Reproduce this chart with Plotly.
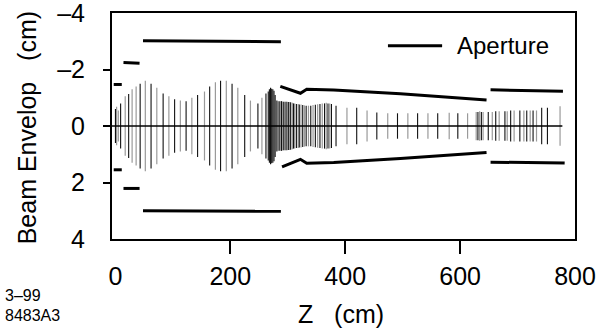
import plotly.graph_objects as go

# ---------------- data ----------------
# beam envelope: vertical sample lines (z in cm, half-width in cm)
env_black_z = [0, 9, 23, 43, 62, 83, 103, 123, 143, 164, 183, 203, 225, 248, 262,
               266, 268, 270, 272, 274, 276, 278, 281, 285, 289, 293, 297, 301, 305,
               310, 315, 320, 326, 332, 340, 348, 356, 364, 370, 376,
               384, 420, 455, 491, 526, 561, 596, 631, 637, 649, 662, 678, 688,
               704, 716, 727, 742, 752]
env_black_a = [0.60, 0.80, 1.13, 1.50, 1.50, 1.15, 0.95, 0.88, 1.10, 1.40, 1.60, 1.50, 1.10, 0.80, 1.15,
               1.22, 1.30, 1.35, 1.32, 1.30, 1.25, 1.10, 0.90, 0.88, 0.88, 0.86, 0.86, 0.85, 0.84,
               0.80, 0.78, 0.76, 0.74, 0.72, 0.72, 0.75, 0.78, 0.80, 0.80, 0.78,
               0.72, 0.65, 0.48, 0.45, 0.45, 0.45, 0.45, 0.50, 0.50, 0.50, 0.52, 0.52, 0.55,
               0.55, 0.55, 0.55, 0.65, 0.65]
env_gray_z = [2, 5, 17, 29, 36, 52, 72, 93, 113, 133, 155, 174, 193, 213, 235, 255,
              283, 287, 291, 295, 299, 303, 308, 312, 318, 323, 329, 336, 344, 352, 360, 367, 373,
              403, 438, 474, 509, 544, 581, 613, 628, 634, 640, 656, 668, 682, 694,
              711, 722, 733, 774]
env_gray_a = [0.68, 0.55, 1.05, 1.30, 1.40, 1.60, 1.35, 1.05, 0.90, 1.00, 1.22, 1.55, 1.60, 1.35, 0.90, 1.00,
              0.88, 0.88, 0.87, 0.86, 0.86, 0.85, 0.82, 0.80, 0.78, 0.76, 0.73, 0.72, 0.74, 0.77, 0.80, 0.82, 0.80,
              0.65, 0.55, 0.45, 0.45, 0.45, 0.47, 0.45, 0.50, 0.52, 0.50, 0.50, 0.52, 0.52, 0.55,
              0.55, 0.55, 0.55, 0.70]

# axis line at zero
zero_z = [-6, 778]

# aperture segments (z, y) in cm; y negative = upper
ap_dash1_top_z = [14, 42];  ap_dash1_top_y = [-2.25, -2.22]
ap_dash1_bot_z = [14, 42];  ap_dash1_bot_y = [2.21, 2.21]
ap_dash2_top_z = [-3, 11];  ap_dash2_top_y = [-1.47, -1.47]
ap_dash2_bot_z = [-3, 11];  ap_dash2_bot_y = [1.55, 1.55]
ap_sec1_top_z = [48, 288];  ap_sec1_top_y = [-3.02, -2.98]
ap_sec1_bot_z = [48, 288];  ap_sec1_bot_y = [3.00, 3.02]
ap_sec2_top_z = [287, 322, 333, 380, 496, 646]
ap_sec2_top_y = [-1.40, -1.16, -1.30, -1.27, -1.14, -0.92]
ap_sec2_bot_z = [290, 322, 333, 380, 496, 646]
ap_sec2_bot_y = [1.45, 1.18, 1.32, 1.29, 1.15, 0.94]
ap_sec3_top_z = [653, 779]; ap_sec3_top_y = [-1.28, -1.23]
ap_sec3_bot_z = [653, 782]; ap_sec3_bot_y = [1.28, 1.31]

x_tick_vals = [0, 200, 400, 600, 800]
x_tick_text = ["0", "200", "400", "600", "800"]
y_tick_vals = [-4, -2, 0, 2, 4]
y_tick_text = ["\u20134", "\u20132", "0", "2", "4"]
x_minor_ticks = [200, 400, 600]
y_minor_ticks = [-2, 0, 2]

FONT = "Liberation Sans, Arial, Helvetica, sans-serif"


def vlines(zs, amps):
    xs, ys = [], []
    for z, a in zip(zs, amps):
        xs += [z, z, None]
        ys += [-a, a, None]
    return xs, ys


fig = go.Figure()

gx, gy = vlines(env_gray_z, env_gray_a)
fig.add_trace(go.Scatter(x=gx, y=gy, mode="lines", line=dict(color="#9a9a9a", width=1.2),
                         showlegend=False, hoverinfo="skip"))
bx, by = vlines(env_black_z, env_black_a)
fig.add_trace(go.Scatter(x=bx, y=by, mode="lines", line=dict(color="#111111", width=1.1),
                         showlegend=False, hoverinfo="skip"))
fig.add_trace(go.Scatter(x=zero_z, y=[0, 0], mode="lines", line=dict(color="#000", width=1.4),
                         showlegend=False, hoverinfo="skip"))

segs = [
    (ap_dash1_top_z, ap_dash1_top_y), (ap_dash1_bot_z, ap_dash1_bot_y),
    (ap_dash2_top_z, ap_dash2_top_y), (ap_dash2_bot_z, ap_dash2_bot_y),
    (ap_sec1_top_z, ap_sec1_top_y), (ap_sec1_bot_z, ap_sec1_bot_y),
    (ap_sec2_top_z, ap_sec2_top_y), (ap_sec2_bot_z, ap_sec2_bot_y),
    (ap_sec3_top_z, ap_sec3_top_y), (ap_sec3_bot_z, ap_sec3_bot_y),
]
for zs, ys in segs:
    fig.add_trace(go.Scatter(x=zs, y=ys, mode="lines", line=dict(color="#000", width=3),
                             showlegend=False, hoverinfo="skip"))

# dummy traces so the tick-only overlay axes are drawn
fig.add_trace(go.Scatter(x=[None], y=[None], xaxis="x2", yaxis="y", showlegend=False))
fig.add_trace(go.Scatter(x=[None], y=[None], xaxis="x", yaxis="y2", showlegend=False))

fig.update_layout(
    width=602, height=331,
    margin=dict(l=112, r=27, t=13, b=92, autoexpand=False),
    paper_bgcolor="white", plot_bgcolor="white",
    font=dict(family=FONT, size=25, color="#000"),
    showlegend=False,
    xaxis=dict(range=[-6, 800], tickvals=x_tick_vals, ticktext=x_tick_text,
               ticks="outside", ticklen=14, tickcolor="rgba(0,0,0,0)",
               showline=True, mirror=True, linewidth=2, linecolor="#000",
               showgrid=False, zeroline=False, tickfont=dict(size=25),
               automargin=False, ticklabeloverflow="allow"),
    yaxis=dict(range=[4, -4], tickvals=y_tick_vals, ticktext=y_tick_text,
               ticks="outside", ticklen=20, tickcolor="rgba(0,0,0,0)",
               showline=True, mirror=True, linewidth=2, linecolor="#000",
               showgrid=False, zeroline=False, tickfont=dict(size=25),
               automargin=False, ticklabeloverflow="allow"),
    xaxis2=dict(range=[-6, 800], overlaying="x", anchor="y", side="bottom",
                tickvals=x_minor_ticks, ticks="outside", ticklen=14, tickwidth=1.5,
                tickcolor="#000", showticklabels=False, showline=False,
                showgrid=False, zeroline=False, automargin=False),
    yaxis2=dict(range=[4, -4], overlaying="y", anchor="x", side="left",
                tickvals=y_minor_ticks, ticks="outside", ticklen=8, tickwidth=1.5,
                tickcolor="#000", showticklabels=False, showline=False,
                showgrid=False, zeroline=False, automargin=False),
)

# legend drawn manually to match the long sample line
fig.add_shape(type="line", xref="paper", yref="paper", x0=0.596, x1=0.713, y0=0.855, y1=0.855,
              line=dict(color="#000", width=3))
fig.add_annotation(text="Aperture", xref="paper", yref="paper", x=0.741, y=0.855,
                   xanchor="left", yanchor="middle", showarrow=False, font=dict(size=24))

fig.add_annotation(text="Z\u00a0\u00a0\u00a0(cm)", xref="paper", yref="paper", x=0.4946, y=-0.33,
                   xanchor="center", yanchor="middle", showarrow=False, font=dict(size=25))
fig.add_annotation(text="Beam Envelop\u00a0\u00a0\u00a0(cm)", xref="paper", yref="paper", x=-0.1836, y=0.494,
                   xanchor="center", yanchor="middle", textangle=-90, showarrow=False,
                   font=dict(size=25))
fig.add_annotation(text="3\u201399", xref="paper", yref="paper", x=-0.2354, y=-0.2506,
                   xanchor="left", yanchor="middle", showarrow=False, font=dict(size=16))
fig.add_annotation(text="8483A3", xref="paper", yref="paper", x=-0.2354, y=-0.339,
                   xanchor="left", yanchor="middle", showarrow=False, font=dict(size=16))

fig.write_html("out.html", config={"displayModeBar": False},
               post_script="document.body.style.margin='0';document.body.style.overflow='hidden';")
